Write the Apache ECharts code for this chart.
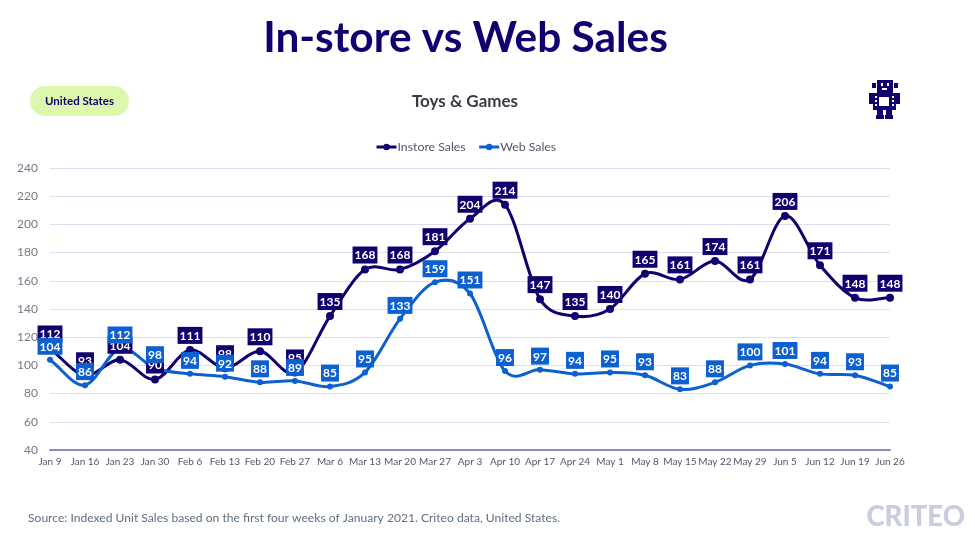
<!DOCTYPE html>
<html>
<head>
    <meta charset="UTF-8">
    <title>In-store vs Web Sales</title>
    <script src="https://cdn.jsdelivr.net/npm/echarts@6/dist/echarts.min.js"></script>
    <style>
        html, body { margin: 0; padding: 0; background: #fff; }
        #main { width: 975px; height: 536px; }
    </style>
</head>
<body>
<div id="main"></div>
<script>
    var weeks = ['Jan 9','Jan 16','Jan 23','Jan 30','Feb 6','Feb 13','Feb 20','Feb 27','Mar 6','Mar 13','Mar 20','Mar 27','Apr 3','Apr 10','Apr 17','Apr 24','May 1','May 8','May 15','May 22','May 29','Jun 5','Jun 12','Jun 19','Jun 26'];
    var instoreSales = [112,93,104,90,111,98,110,95,135,168,168,181,204,214,147,135,140,165,161,174,161,206,171,148,148];
    var webSales = [104,86,112,98,94,92,88,89,85,95,133,159,151,96,97,94,95,93,83,88,100,101,94,93,85];

    var navy = '#12006e';
    var blue = '#0c60cf';
    var font = 'Lato';

    function dist(a, b) {
        return Math.sqrt((a[0] - b[0]) * (a[0] - b[0]) + (a[1] - b[1]) * (a[1] - b[1]));
    }

    // curve that may overshoot the points, line series smooth can not do that
    function curveSeries(values, color, width) {
        return {
            type: 'custom',
            name: 'curve',
            silent: true,
            data: values.map(function (v, i) { return [i, v]; }),
            encode: { x: 0, y: 1 },
            renderItem: function (params, api) {
                var i = params.dataIndex;
                if (i >= values.length - 1) return null;
                var at = function (k) {
                    k = Math.max(0, Math.min(values.length - 1, k));
                    return api.coord([k, values[k]]);
                };
                var p0 = at(i - 1), p1 = at(i), p2 = at(i + 1), p3 = at(i + 2);
                var d12 = dist(p1, p2), d02 = dist(p0, p2), d13 = dist(p1, p3);
                var f = i === 0 ? 1 / 3 : 1 / 6;
                var g = i === values.length - 2 ? 1 / 3 : 1 / 6;
                if (d02 / 6 >= d12 / 2) f = d12 / d02 / 2;
                if (d13 / 6 >= d12 / 2) g = d12 / d13 / 2;
                return {
                    type: 'bezierCurve',
                    shape: {
                        x1: p1[0], y1: p1[1],
                        x2: p2[0], y2: p2[1],
                        cpx1: p1[0] + (p2[0] - p0[0]) * f,
                        cpy1: p1[1] + (p2[1] - p0[1]) * f,
                        cpx2: p2[0] - (p3[0] - p1[0]) * g,
                        cpy2: p2[1] - (p3[1] - p1[1]) * g
                    },
                    style: { stroke: color, lineWidth: width, fill: null, lineCap: 'round' }
                };
            }
        };
    }

    function pointSeries(name, values, color, dot) {
        return {
            name: name,
            type: 'line',
            data: values,
            symbol: 'circle',
            symbolSize: dot,
            lineStyle: { width: 0 },
            itemStyle: { color: color },
            label: {
                show: true,
                position: 'top',
                distance: 2,
                color: '#fff',
                fontFamily: font,
                fontSize: 12,
                fontWeight: 'bold',
                backgroundColor: color,
                padding: [3, 2, 2, 2]
            }
        };
    }

    // robot icon
    function robot() {
        var solid = [
            [877, 80, 16, 13], [872, 83, 4, 5], [894, 83, 4, 5],
            [873, 93, 23, 17], [869, 93, 4, 11], [896, 93, 4, 11],
            [877, 110, 6, 5], [886, 110, 6, 5], [876, 115, 8, 4], [885, 115, 8, 4]
        ];
        var holes = [
            [879, 97, 10, 9], [881, 83, 2, 3], [887, 83, 2, 3], [882, 88, 5, 2],
            [875, 96, 2, 2], [875, 100, 2, 2], [875, 104, 2, 2],
            [892, 96, 2, 2], [892, 100, 2, 2], [892, 104, 2, 2]
        ];
        function rects(list, color) {
            return list.map(function (p) {
                return { type: 'rect', shape: { x: p[0], y: p[1], width: p[2], height: p[3] }, style: { fill: color } };
            });
        }
        return rects(solid, navy).concat(rects(holes, '#fff'));
    }

    var myChart = echarts.init(document.getElementById('main'));
    myChart.setOption({
        animation: false,
        backgroundColor: '#fff',
        title: [{
            text: 'In-store vs Web Sales',
            left: 460.5, top: 12, textAlign: 'center',
            textStyle: { color: navy, fontFamily: font, fontSize: 42.4, fontWeight: 'bold' }
        }, {
            text: 'Toys & Games',
            left: 460, top: 88, textAlign: 'center',
            textStyle: { color: '#3a3a46', fontFamily: font, fontSize: 17, fontWeight: 'bold' }
        }, {
            text: 'Source: Indexed Unit Sales based on the first four weeks of January 2021. Criteo data, United States.',
            left: 23, top: 507,
            textStyle: { color: '#5f6f80', fontFamily: font, fontSize: 12.1, fontWeight: 'normal' }
        }],
        legend: {
            top: 136,
            left: 370,
            itemWidth: 20,
            itemHeight: 8,
            itemGap: 12,
            data: [
                { name: 'Instore Sales', lineStyle: { color: navy, width: 3 } },
                { name: 'Web Sales', lineStyle: { color: blue, width: 3 } }
            ],
            textStyle: { color: '#55556a', fontFamily: font, fontSize: 12.3, padding: [0, 0, 0, -4] }
        },
        grid: { left: 50, right: 85, top: 168, bottom: 86 },
        xAxis: {
            type: 'category',
            data: weeks,
            boundaryGap: false,
            axisTick: { show: false },
            axisLine: { lineStyle: { color: '#8f86bd', width: 2 } },
            axisLabel: { color: '#55556a', fontFamily: font, fontSize: 10, margin: 7, interval: 0 }
        },
        yAxis: {
            type: 'value',
            min: 40,
            max: 240,
            interval: 20,
            axisLine: { show: false },
            axisTick: { show: false },
            axisLabel: { color: '#77778a', fontFamily: font, fontSize: 12, margin: 12 },
            splitLine: { lineStyle: { color: '#dcdff0', width: 1 } }
        },
        series: [
            curveSeries(instoreSales, navy, 3),
            pointSeries('Instore Sales', instoreSales, navy, 8),
            curveSeries(webSales, blue, 3),
            pointSeries('Web Sales', webSales, blue, 6)
        ],
        graphic: [{
            type: 'rect',
            shape: { x: 30, y: 86, width: 99, height: 30, r: 15 },
            style: { fill: '#dbf8ad' }
        }, {
            type: 'text',
            style: { x: 79.5, y: 101, text: 'United States', fill: navy, font: 'bold 11.5px Lato', textAlign: 'center', textVerticalAlign: 'middle' }
        }, {
            type: 'text',
            style: { x: 965, y: 517, text: 'CRITEO', fill: '#c8cde0', font: '900 27.5px Lato', textAlign: 'right', textVerticalAlign: 'middle' }
        }].concat(robot())
    });
</script>
</body>
</html>
